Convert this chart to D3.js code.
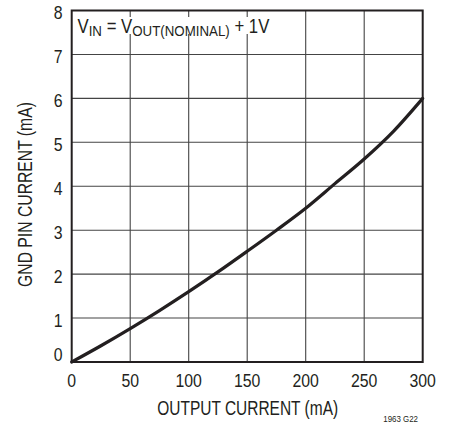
<!DOCTYPE html>
<html>
<head>
<meta charset="utf-8">
<script src="https://cdn.jsdelivr.net/npm/d3@7"></script>
<style>
  html, body { margin: 0; padding: 0; background: #fff; }
  svg { display: block; }
  text { font-family: "Liberation Sans Narrow", "Arial Narrow", "Liberation Sans", sans-serif; fill: #231f20; }
</style>
</head>
<body>
<svg id="chart" width="451" height="425"></svg>
<script>
// GND pin current vs output current
const outputCurrent = [0, 25, 50, 75, 100, 125, 150, 175, 200, 225, 250, 275, 300];
const gndCurrent    = [0, 0.37, 0.76, 1.17, 1.6, 2.05, 2.52, 3.0, 3.5, 4.06, 4.62, 5.25, 6.0];
const xTicks = [0, 50, 100, 150, 200, 250, 300];
const yTicks = [0, 1, 2, 3, 4, 5, 6, 7, 8];

const svg = d3.select("#chart");
const m = { left: 71.7, right: 422.7, top: 10.5, bottom: 362 };

const x = d3.scaleLinear().domain([0, 300]).range([m.left, m.right]);
const y = d3.scaleLinear().domain([0, 8]).range([m.bottom, m.top]);

const ink = "#231f20";
const NARROW = 0.88;

// place a text at (px, py) squeezed horizontally by factor k, optionally rotated
function placeCondensed(t, px, py, k, rot) {
  t.attr("x", 0).attr("y", 0)
   .attr("transform", `translate(${px},${py})${rot ? ` rotate(${rot})` : ""} scale(${k},1)`);
}
// squeeze a text so its natural width becomes w
function fitWidth(t, px, py, w, rot) {
  t.attr("x", 0).attr("y", 0);
  const nat = t.node().getBBox().width;
  placeCondensed(t, px, py, w / nat, rot);
}

// grid
const grid = svg.append("g");
grid.selectAll("line.v").data(xTicks.slice(1, -1)).join("line")
  .attr("x1", d => x(d)).attr("x2", d => x(d))
  .attr("y1", m.top).attr("y2", m.bottom)
  .attr("stroke", "#444").attr("stroke-width", 1.1);
grid.selectAll("line.h").data(yTicks.slice(1, -1)).join("line")
  .attr("x1", m.left).attr("x2", m.right)
  .attr("y1", d => y(d)).attr("y2", d => y(d))
  .attr("stroke", "#444").attr("stroke-width", 1.1);

// condition label on a white backing
const bg = svg.append("rect").attr("fill", "#fff");
const lbl = svg.append("text").attr("font-size", 19.5);
lbl.append("tspan").text("V");
lbl.append("tspan").attr("font-size", 15.5).attr("dy", 3.5).text("IN");
lbl.append("tspan").attr("dy", -3.5).text(" = V");
lbl.append("tspan").attr("font-size", 15.5).attr("dy", 3.5).text("OUT(NOMINAL)");
lbl.append("tspan").attr("dy", -3.5).text(" + 1V");
fitWidth(lbl, 77.5, 32.5, 192);
bg.attr("x", m.left + 1).attr("y", 17)
  .attr("width", 77.5 + 192 + 3 - m.left).attr("height", 17);

// frame
svg.append("rect")
  .attr("x", m.left).attr("y", m.top)
  .attr("width", m.right - m.left).attr("height", m.bottom - m.top)
  .attr("fill", "none").attr("stroke", ink).attr("stroke-width", 2);

// curve
const line = d3.line().x((d, i) => x(outputCurrent[i])).y(d => y(d)).curve(d3.curveMonotoneX);
svg.append("path")
  .datum(gndCurrent)
  .attr("d", line)
  .attr("fill", "none").attr("stroke", ink).attr("stroke-width", 3.2)
  .attr("stroke-linecap", "round");

// x tick labels
svg.selectAll("text.xt").data(xTicks).join("text")
  .attr("class", "xt")
  .attr("text-anchor", "middle").attr("font-size", 18)
  .text(d => d)
  .each(function (d) { placeCondensed(d3.select(this), x(d), 386.5, NARROW); });

// y tick labels
svg.selectAll("text.yt").data(yTicks).join("text")
  .attr("class", "yt")
  .attr("text-anchor", "end").attr("font-size", 18)
  .text(d => d)
  .each(function (d) { placeCondensed(d3.select(this), 62.5, y(d) + (d === 0 ? -1 : 8.5), NARROW); });

// axis titles
const xTitle = svg.append("text")
  .attr("text-anchor", "middle").attr("font-size", 19.5)
  .text("OUTPUT CURRENT (mA)");
fitWidth(xTitle, (m.left + m.right) / 2 + 0.5, 415, 181);
const yTitle = svg.append("text")
  .attr("text-anchor", "middle").attr("font-size", 19.5)
  .text("GND PIN CURRENT (mA)");
fitWidth(yTitle, 31.5, 194.5, 185, -90);

// figure code
const code = svg.append("text")
  .attr("text-anchor", "end").attr("font-size", 9)
  .text("1963 G22");
placeCondensed(code, 418, 421.5, NARROW);
</script>
</body>
</html>
